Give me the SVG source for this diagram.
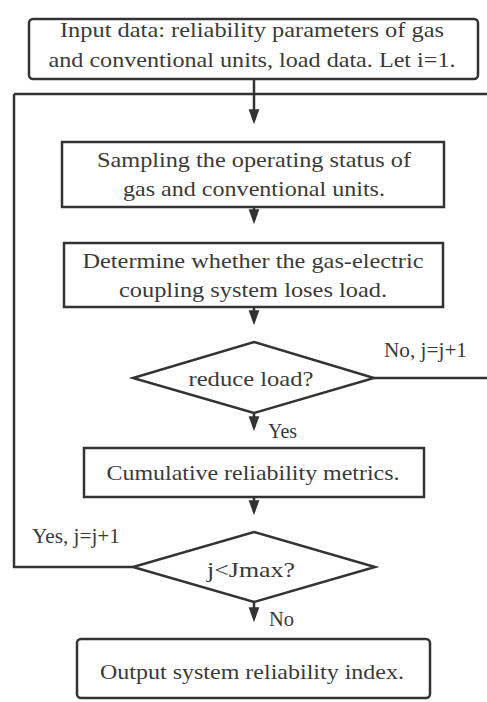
<svg xmlns="http://www.w3.org/2000/svg" width="487" height="702" viewBox="0 0 487 702">
<defs>
<marker id="ah" markerWidth="15" markerHeight="21" refX="15" refY="7.5" orient="auto" markerUnits="userSpaceOnUse" viewBox="0 0 21 15">
<path d="M0,0 L21,7.5 L0,15 Z" fill="#333"/>
</marker>
<style>
.n{fill:#fff;stroke:#333;stroke-width:2.5}
.t{font-family:"Liberation Serif","Times New Roman",serif;font-size:22px;fill:#3a3a3a;text-anchor:middle}
.l{font-family:"Liberation Serif","Times New Roman",serif;font-size:20px;fill:#3a3a3a}
.c{fill:none;stroke:#333;stroke-width:2.5}
</style>
</defs>
<rect width="487" height="702" fill="#fff"/>
<g id="connectors">
<path class="c" d="M254,79 V94"/>
<path class="c" d="M14,94 H487"/>
<path class="c" d="M254,94 V120" marker-end="url(#ah)"/>
<path class="c" d="M254,207 V220" marker-end="url(#ah)"/>
<path class="c" d="M254,307 V321" marker-end="url(#ah)"/>
<path class="c" d="M374,378 H487"/>
<path class="c" d="M254,413 V427" marker-end="url(#ah)"/>
<path class="c" d="M254,497 V511" marker-end="url(#ah)"/>
<path class="c" d="M133,567 H14 V94"/>
<path class="c" d="M254,602 V618" marker-end="url(#ah)"/>
</g>
<g id="n1">
<rect class="n" x="29" y="19" width="449" height="60" rx="4"/>
<text class="t" x="252" y="37" textLength="384" lengthAdjust="spacingAndGlyphs">Input data: reliability parameters of gas</text>
<text class="t" x="252" y="67" textLength="407" lengthAdjust="spacingAndGlyphs">and conventional units, load data. Let i=1.</text>
</g>
<g id="n2">
<rect class="n" x="62" y="142" width="382" height="65"/>
<text class="t" x="254" y="167" textLength="314" lengthAdjust="spacingAndGlyphs">Sampling the operating status of</text>
<text class="t" x="254" y="196" textLength="262" lengthAdjust="spacingAndGlyphs">gas and conventional units.</text>
</g>
<g id="n3">
<rect class="n" x="64" y="243" width="379" height="64"/>
<text class="t" x="253" y="268" textLength="341" lengthAdjust="spacingAndGlyphs">Determine whether the gas-electric</text>
<text class="t" x="253" y="297" textLength="268" lengthAdjust="spacingAndGlyphs">coupling system loses load.</text>
</g>
<g id="d1">
<path class="n" d="M254,342 L374,378 L254,413 L133,378 Z"/>
<text class="t" x="251" y="386" textLength="125" lengthAdjust="spacingAndGlyphs">reduce load?</text>
</g>
<text class="l" x="384" y="357" textLength="83" lengthAdjust="spacingAndGlyphs">No, j=j+1</text>
<text class="l" x="268" y="438" textLength="29" lengthAdjust="spacingAndGlyphs">Yes</text>
<g id="n4">
<rect class="n" x="84" y="448" width="340" height="49"/>
<text class="t" x="253" y="480" textLength="293" lengthAdjust="spacingAndGlyphs">Cumulative reliability metrics.</text>
</g>
<g id="d2">
<path class="n" d="M254,532 L375,567 L254,602 L133,567 Z"/>
<text class="t" x="251" y="577" textLength="88" lengthAdjust="spacingAndGlyphs">j&lt;Jmax?</text>
</g>
<text class="l" x="32" y="543" textLength="88" lengthAdjust="spacingAndGlyphs">Yes, j=j+1</text>
<text class="l" x="269" y="626" textLength="25" lengthAdjust="spacingAndGlyphs">No</text>
<g id="n5">
<rect class="n" x="77" y="639" width="353" height="59" rx="4"/>
<text class="t" x="252" y="679" textLength="304" lengthAdjust="spacingAndGlyphs">Output system reliability index.</text>
</g>
</svg>
